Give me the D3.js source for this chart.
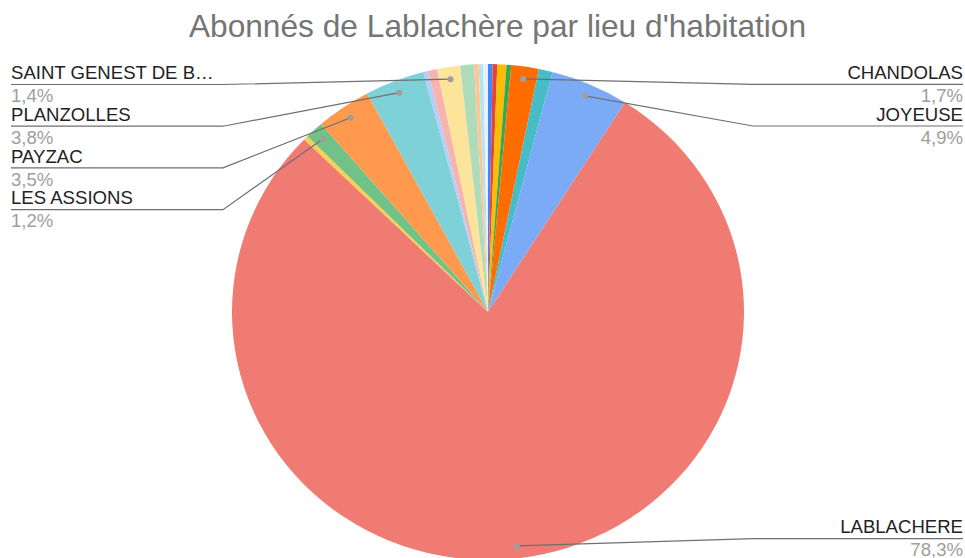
<!DOCTYPE html>
<html><head><meta charset="utf-8">
<script src="https://cdn.jsdelivr.net/npm/d3@7"></script>
<style>body{margin:0;background:#fff}svg{display:block}</style>
</head><body>
<svg id="c" width="965" height="558"></svg>
<script>
// Data (subscriber counts per place of residence, in sheet order)
const categories = [
  "Commune 1", "Commune 2", "Commune 3", "Commune 4",
  "CHANDOLAS", "Commune 6", "JOYEUSE", "LABLACHERE",
  "Commune 9", "LES ASSIONS", "PAYZAC", "PLANZOLLES",
  "Commune 13", "Commune 14", "SAINT GENEST DE B…", "Commune 16",
  "Commune 17", "Commune 18", "Commune 19"
];
const counts = [1, 1, 2, 1, 6, 3, 17, 270, 1, 4, 12, 13, 1, 2, 5, 3, 1, 1, 1];
const colors = [
  "#4285F4", "#EA4335", "#FBBC04", "#34A853", "#FF6D01", "#46BDC6", "#7BAAF7", "#F07B72",
  "#FCD04F", "#71C287", "#FF994D", "#7ED1D7", "#B3CEFB", "#F7B4AE", "#FDE49B", "#AEDCBA",
  "#FFC599", "#B5E5E8", "#E8F0FE"
];
const title = "Abonnés de Lablachère par lieu d'habitation";

// Layout (virtual space, horizontally stretched to match reference)
const SX = 256 / 248;
const cx = 488 / SX, cy = 312, R = 248;
const svg = d3.select("#c");
const g = svg.append("g").attr("transform", `scale(${SX},1)`);

g.append("text")
  .attr("x", 497.5 / SX).attr("y", 37)
  .attr("text-anchor", "middle")
  .attr("font-family", "Liberation Sans, Arial, sans-serif")
  .attr("font-size", 30.7)
  .attr("fill", "#757575")
  .text(title);

const data = categories.map((c, i) => ({ name: c, value: counts[i], color: colors[i] }));
const total = d3.sum(counts);
const pie = d3.pie().sort(null).value(d => d.value).startAngle(0).endAngle(2 * Math.PI);
const arcs = pie(data);
const arc = d3.arc().innerRadius(0).outerRadius(R);

const pg = g.append("g").attr("transform", `translate(${cx},${cy})`);
pg.selectAll("path").data(arcs).join("path")
  .attr("d", arc)
  .attr("fill", d => d.data.color);

// Labels
const fmt = v => (v * 100).toFixed(1).replace(".", ",") + "%";
const labeled = arcs.filter(a => a.data.value / total >= 0.01).map(a => {
  const m = (a.startAngle + a.endAngle) / 2;
  return {
    a, m,
    dx: cx + 0.95 * R * Math.sin(m),
    dy: cy - 0.95 * R * Math.cos(m),
    side: m > Math.PI ? "left" : "right"
  };
});
const minBase = 79, maxBase = 533.3, gap = 41.7;
["left", "right"].forEach(side => {
  const items = labeled.filter(l => l.side === side).sort((p, q) => p.dy - q.dy);
  let prev = -Infinity;
  items.forEach(l => {
    let b = Math.max(l.dy, prev + gap, minBase);
    b = Math.min(b, maxBase);
    l.base = b; prev = b;
  });
});

const lg = g.append("g").attr("font-family", "Liberation Sans, Arial, sans-serif").attr("font-size", 18);
labeled.forEach(l => {
  const left = l.side === "left";
  const tx = left ? 11 / SX : 963 / SX;
  const ex = left ? 223 / SX : 753 / SX;
  const ly = l.base + 5.3;
  lg.append("path")
    .attr("d", `M${tx},${ly}L${ex},${ly}L${l.dx},${l.dy}`)
    .attr("fill", "none").attr("stroke", "#6f6f6f").attr("stroke-width", 1.2);
  lg.append("ellipse")
    .attr("cx", l.dx).attr("cy", l.dy).attr("rx", 3 / SX).attr("ry", 3)
    .attr("fill", "#9e9e9e");
  lg.append("text")
    .attr("x", tx).attr("y", l.base)
    .attr("text-anchor", left ? "start" : "end")
    .attr("fill", "#222222")
    .text(l.a.data.name);
  lg.append("text")
    .attr("x", tx).attr("y", l.base + 23)
    .attr("text-anchor", left ? "start" : "end")
    .attr("fill", "#9e9e9e")
    .text(fmt(l.a.data.value / total));
});
</script>
</body></html>
